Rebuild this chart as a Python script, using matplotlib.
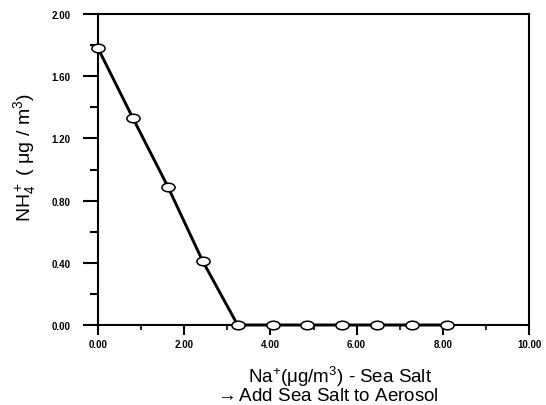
import numpy as np
import matplotlib
matplotlib.use('Agg')
from matplotlib import pyplot as plt
from matplotlib.path import Path
from matplotlib.transforms import Affine2D
from matplotlib.ticker import MultipleLocator, FormatStrFormatter

# data
na_sea_salt = [0.00, 0.81, 1.62, 2.43, 3.24, 4.05, 4.86, 5.67, 6.48, 7.29, 8.10]
nh4 = [1.78, 1.33, 0.89, 0.41, 0.00, 0.00, 0.00, 0.00, 0.00, 0.00, 0.00]

plt.rcParams['font.family'] = ['Liberation Sans', 'DejaVu Sans']
plt.rcParams['mathtext.fontset'] = 'custom'
plt.rcParams['mathtext.rm'] = 'Liberation Sans'
plt.rcParams['mathtext.it'] = 'Liberation Sans'

# open ellipse marker, wider than tall
ellipse = Path.unit_circle().transformed(Affine2D().scale(1.0, 0.65))

fig = plt.figure(figsize=(5.46, 4.06), dpi=100)
ax = fig.add_axes([98/546, 1 - 326/406, (529-98)/546, (326-15)/406])

ax.plot(na_sea_salt, nh4, color='black', lw=2.1, marker=ellipse, ms=9.5,
        mfc='white', mec='black', mew=1.1, zorder=3, clip_on=False)

ax.set_xlim(0, 10)
ax.set_ylim(0, 2)
ax.xaxis.set_major_locator(MultipleLocator(2))
ax.xaxis.set_minor_locator(MultipleLocator(1))
ax.yaxis.set_major_locator(MultipleLocator(0.4))
ax.yaxis.set_minor_locator(MultipleLocator(0.2))
ax.xaxis.set_major_formatter(FormatStrFormatter('%.2f'))
ax.yaxis.set_major_formatter(FormatStrFormatter('%.2f'))

for s in ax.spines.values():
    s.set_linewidth(1.5)
ax.tick_params(axis='y', which='major', direction='out', length=11, width=1.5,
               pad=9, labelsize=7)
ax.tick_params(axis='y', which='minor', direction='out', length=5.5, width=1.5)
ax.tick_params(axis='x', which='major', direction='out', length=7, width=1.5,
               pad=3, labelsize=7)
ax.tick_params(axis='x', which='minor', direction='out', length=3.5, width=1.2)
for lab in ax.get_xticklabels() + ax.get_yticklabels():
    lab.set_fontweight('bold')

fig.text(25/546, 1 - 158/406, r'NH$_4^+$ ( $\mu$g / m$^3$)', rotation=90,
         ha='center', va='center', fontsize=14)
fig.text(340/546, 1 - 377/406, r'Na$^{+}$($\mu$g/m$^{3}$) - Sea Salt',
         ha='center', va='center', fontsize=13.5)
fig.text(326/546, 1 - 397/406, '$\\rightarrow$Add Sea Salt to Aerosol',
         ha='center', va='center', fontsize=13.5)

plt.savefig('out.png', dpi=100)
